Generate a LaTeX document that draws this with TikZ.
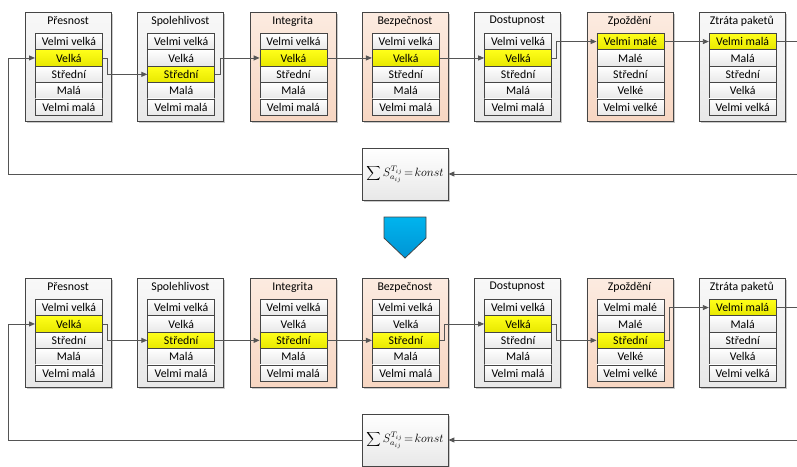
\documentclass[tikz,border=0pt]{standalone}
\usepackage{fontspec}
\setmainfont{Carlito}
\usetikzlibrary{arrows.meta,shadows}
\definecolor{edge}{HTML}{454545}
\definecolor{wire}{HTML}{555555}
\definecolor{peachtop}{HTML}{FCEBE0}
\definecolor{peachbot}{HTML}{F7D6C2}
\definecolor{greytop}{HTML}{F8F8F8}
\definecolor{greybot}{HTML}{E8E8E8}
\definecolor{hitop}{HTML}{FFFF1A}
\definecolor{hibot}{HTML}{E8E800}
\definecolor{bluetop}{HTML}{00B4EE}
\definecolor{bluebot}{HTML}{0094D4}

\tikzset{
  txt/.style={font=\fontsize{11.8}{13}\selectfont},
  panel/.style={draw=edge, line width=0.8pt, inner sep=0pt, anchor=north west,
    minimum width=86pt, minimum height=109pt,
    drop shadow={shadow xshift=1.6pt, shadow yshift=-1.6pt, opacity=0.35, fill=black!60}},
  greypanel/.style={panel, top color=greytop, bottom color=greybot},
  peachpanel/.style={panel, top color=peachtop, bottom color=peachbot},
  cell/.style={draw=edge, line width=0.7pt, inner sep=0pt, anchor=north west,
    minimum width=67pt, minimum height=16.4pt, top color=white, bottom color=black!9, txt},
  hot/.style={top color=hitop, bottom color=hibot},
  pick/.code={\ifnum\r=#1\relax\pgfkeysalso{hot}\fi},
  title/.style={txt, inner sep=0pt},
  conn/.style={draw=wire, line width=0.9pt, -{Triangle[length=6pt,width=5pt]}},
  wireline/.style={draw=wire, line width=0.9pt},
  formula/.style={draw=edge, line width=0.8pt, minimum width=86pt, minimum height=52pt,
    top color=white, bottom color=black!9, font=\fontsize{11.5}{13}\selectfont,
    drop shadow={shadow xshift=1.6pt, shadow yshift=-1.6pt, opacity=0.35, fill=black!60}},
}

% #1 prefix, #2 column, #3 vertical offset, #4 title, #5 panel style,
% #6 highlighted row, #7 the five level labels
\newcommand\levelcolumn[7]{%
  \pgfmathsetmacro\colx{25+112.3*(#2-1)}
  \node[#5] (#1#2) at ({\colx}, {12+#3}) {};
  \node[title] (#1#2-title) at ({\colx+43}, {21+#3}) {#4};
  \foreach \lab [count=\r] in {#7} {
    \node[cell, pick=#6] (#1#2-\r) at ({\colx+10}, {33+16.4*(\r-1)+#3}) {\lab};
  }
}
\newcommand\levellink[2]{\draw[conn] (#1.east) -- ++(5,0) |- (#2.west);}

\begin{document}
\begin{tikzpicture}[x=1pt, y=-1pt]
\useasboundingbox (0,0) rectangle (797,466);

\foreach \pre/\off/\ha/\hb/\hc/\hd/\he/\hf/\hg in {t/0/2/3/2/2/2/1/1, b/266/2/3/3/3/2/3/1} {
  \levelcolumn{\pre}{1}{\off}{Přesnost}{greypanel}{\ha}{Velmi velká,Velká,Střední,Malá,Velmi malá}
  \levelcolumn{\pre}{2}{\off}{Spolehlivost}{greypanel}{\hb}{Velmi velká,Velká,Střední,Malá,Velmi malá}
  \levelcolumn{\pre}{3}{\off}{Integrita}{peachpanel}{\hc}{Velmi velká,Velká,Střední,Malá,Velmi malá}
  \levelcolumn{\pre}{4}{\off}{Bezpečnost}{peachpanel}{\hd}{Velmi velká,Velká,Střední,Malá,Velmi malá}
  \levelcolumn{\pre}{5}{\off}{Dostupnost}{greypanel}{\he}{Velmi velká,Velká,Střední,Malá,Velmi malá}
  \levelcolumn{\pre}{6}{\off}{Zpoždění}{peachpanel}{\hf}{Velmi malé,Malé,Střední,Velké,Velmi velké}
  \levelcolumn{\pre}{7}{\off}{Ztráta paketů}{greypanel}{\hg}{Velmi malá,Malá,Střední,Velká,Velmi velká}
  \node[formula] (\pre f) at (405, {174+\off})
    {$\displaystyle\sum\nolimits S_{a_{ij}}^{T_{ij}}\!=\!konst$};
  \coordinate (\pre in) at (797, {174+\off});
  \coordinate (\pre corner) at (8, {174+\off});
  \coordinate (\pre edge) at (797, 0);
}

% upper chain of chosen levels
\levellink{t1-2}{t2-3}
\levellink{t2-3}{t3-2}
\levellink{t3-2}{t4-2}
\levellink{t4-2}{t5-2}
\levellink{t5-2}{t6-1}
\levellink{t6-1}{t7-1}
\draw[wireline] (t7-1.east) -- (t7-1.east -| tedge);
\draw[conn] (tin) -- (tf.east);
\draw[conn] (tf.west) -- (tcorner) |- (t1-2.west);

% lower chain of chosen levels
\levellink{b1-2}{b2-3}
\levellink{b2-3}{b3-3}
\levellink{b3-3}{b4-3}
\levellink{b4-3}{b5-2}
\levellink{b5-2}{b6-3}
\levellink{b6-3}{b7-1}
\draw[wireline] (b7-1.east) -- (b7-1.east -| bedge);
\draw[conn] (bin) -- (bf.east);
\draw[conn] (bf.west) -- (bcorner) |- (b1-2.west);

% block arrow between the two states
\draw[draw=edge, line width=0.8pt, top color=bluetop, bottom color=bluebot]
  (384,217) -- (426,217) -- (426,238) -- (405,258) -- (384,238) -- cycle;
\end{tikzpicture}
\end{document}
